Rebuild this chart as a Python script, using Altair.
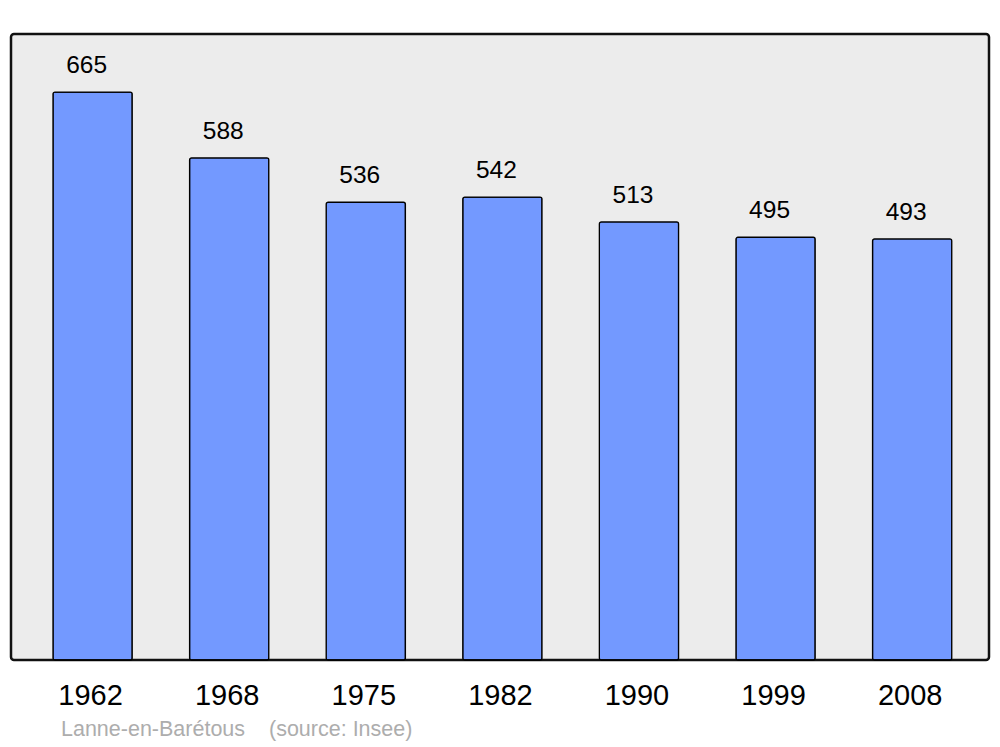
import altair as alt
import pandas as pd

years = ["1962", "1968", "1975", "1982", "1990", "1999", "2008"]
population = [665, 588, 536, 542, 513, 495, 493]
note_parts = ["Lanne-en-Barétous", "(source: Insee)"]
note_x = [50, 258]

df = pd.DataFrame({"year": years, "pop": population})

x = alt.X("year:N", sort=years, title=None,
          scale=alt.Scale(paddingInner=0.42, paddingOuter=0.29, align=0.53),
          axis=alt.Axis(labelAngle=0, labelFontSize=29, labelFont="Liberation Sans",
                        labelColor="#000", ticks=False, domain=False,
                        labelPadding=35, labelBaseline="middle", labelOffset=-2))
y = alt.Y("pop:Q", scale=alt.Scale(domain=[0, 733], nice=False), axis=None)

bars = alt.Chart(df).mark_bar(color="#7399ff", stroke="#000", strokeWidth=1.3,
                              cornerRadius=2).encode(x=x, y=y)
labels = alt.Chart(df).mark_text(font="Liberation Sans", fontSize=24.5, color="#000",
                                 dy=-19, dx=-6, baseline="alphabetic").encode(
    x=x, y=y, text="pop:Q")
note = alt.Chart(pd.DataFrame({"t": note_parts, "px": note_x})).mark_text(
    font="Liberation Sans", fontSize=21.5, color="#adadad", align="left",
    baseline="middle").encode(text="t:N",
                              x=alt.X("px:Q", scale=None, axis=None),
                              y=alt.value(696))

chart = alt.layer(bars, labels, note).properties(
    width=978, height=626,
    autosize=alt.AutoSizeParams(type="none"),
    padding={"left": 3, "top": 26, "right": 3, "bottom": 82},
).configure_view(fill="#ececec", stroke="#111", strokeWidth=2.5, cornerRadius=3)

chart.save("out.html", embed_options={"renderer": "svg", "actions": False})
